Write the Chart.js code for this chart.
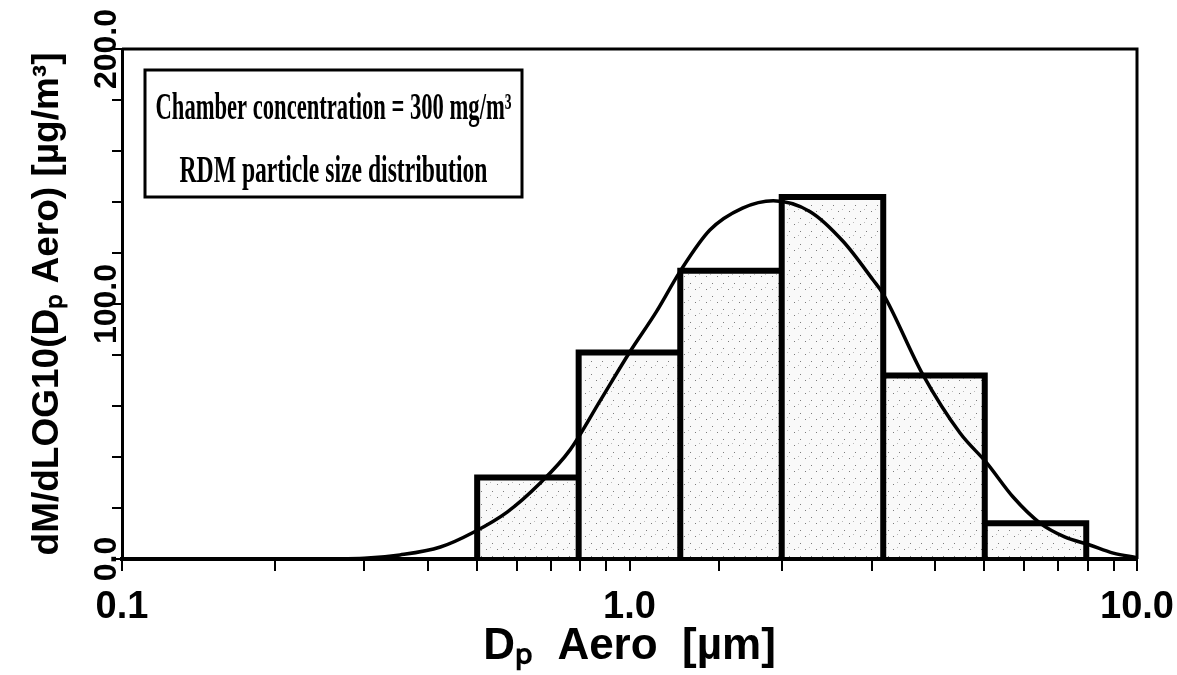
<!DOCTYPE html>
<html>
<head>
<meta charset="utf-8">
<title>RDM particle size distribution</title>
<script src="https://cdn.jsdelivr.net/npm/chart.js@4.4.0/dist/chart.umd.min.js"></script>
<style>
  html, body { margin: 0; padding: 0; background: #fff; }
  #wrap { width: 1177px; height: 675px; }
</style>
</head>
<body>
<div id="wrap"><canvas id="myChart"></canvas></div>
<script>
// histogram bins (aerodynamic diameter, µm) and bar heights (µg/m³)
const binEdges = [0.501, 0.794, 1.259, 1.995, 3.162, 5.012, 7.943];
const binHeights = [32, 81, 113, 142, 72, 14];

// fitted curve
const curveX = [0.1, 0.2, 0.26, 0.30, 0.353, 0.424, 0.494, 0.574, 0.667, 0.763, 0.875, 1.0, 1.13, 1.26, 1.44, 1.67, 1.92, 2.27, 2.64, 3.02, 3.16, 3.78, 4.48, 5.06, 5.7, 6.44, 7.2, 8.07, 8.98, 10.0];
const curveY = [0, 0, 0.1, 0.3, 1.6, 4.7, 10.6, 18.4, 29.8, 42.7, 62, 81, 97, 113, 129, 137.6, 140.5, 136.2, 124.4, 109.4, 104, 72.5, 49.4, 37.6, 24.3, 14.1, 8.7, 5.5, 2.3, 0.5];

// tick labels
const xMajorTicks = [0.1, 1, 10];
const xTickLabels = ['0.1', '1.0', '10.0'];
const yMajorTicks = [0, 100, 200];
const yTickLabels = ['0.0', '100.0', '200.0'];

const xTitle = 'Dₚ  Aero  [µm]';
const yTitle = 'dM/dLOG10(Dₚ Aero) [µg/m³]';
const boxLines = ['Chamber concentration = 300 mg/m³', 'RDM particle size distribution'];

const sansFamily = '"Liberation Sans", Arial, sans-serif';

// outline of the bars, each bar closed down to zero
const histPoints = [];
for (let i = 0; i < binHeights.length; i++) {
  histPoints.push({x: binEdges[i], y: 0});
  histPoints.push({x: binEdges[i], y: binHeights[i]});
  histPoints.push({x: binEdges[i + 1], y: binHeights[i]});
  histPoints.push({x: binEdges[i + 1], y: 0});
}

// light stippled fill like the printed original
function stipple() {
  const c = document.createElement('canvas');
  c.width = 11; c.height = 13;
  const g = c.getContext('2d');
  g.fillStyle = 'rgba(0,0,0,0.025)';
  g.fillRect(0, 0, 11, 13);
  g.fillStyle = 'rgba(0,0,0,0.5)';
  g.fillRect(2, 3, 1, 1);
  g.fillRect(8, 10, 1, 1);
  g.fillStyle = 'rgba(0,0,0,0.25)';
  g.fillRect(6, 1, 1, 1);
  return g.createPattern(c, 'repeat');
}

function pickLabel(value, majors, labels) {
  for (let i = 0; i < majors.length; i++) {
    if (Math.abs(value - majors[i]) < 1e-9 * Math.max(1, majors[i])) return labels[i];
  }
  return '';
}

// frame on top/right + the text box
const framePlugin = {
  id: 'frame',
  afterDraw(chart) {
    const ctx = chart.ctx;
    const a = chart.chartArea;
    ctx.save();
    ctx.strokeStyle = '#000';
    ctx.lineWidth = 3;
    ctx.beginPath();
    ctx.moveTo(a.left, a.top);
    ctx.lineTo(a.right, a.top);
    ctx.lineTo(a.right, a.bottom);
    ctx.stroke();

    const bx = a.left + 23, by = a.top + 21, bw = 377, bh = 127;
    ctx.fillStyle = '#fff';
    ctx.fillRect(bx, by, bw, bh);
    ctx.strokeRect(bx, by, bw, bh);
    ctx.fillStyle = '#000';
    ctx.font = 'bold 38px "Liberation Serif", "DejaVu Serif", serif';
    ctx.textAlign = 'center';
    ctx.textBaseline = 'alphabetic';
    ctx.fillText(boxLines[0], bx + bw / 2, by + 49, 356);
    ctx.fillText(boxLines[1], bx + bw / 2, by + 112, 308);
    ctx.restore();
  }
};

const ctx = document.getElementById('myChart');
new Chart(ctx, {
  type: 'line',
  data: {
    datasets: [
      {
        data: curveX.map((x, i) => ({x: x, y: curveY[i]})),
        borderColor: '#000',
        borderWidth: 3.5,
        pointRadius: 0,
        cubicInterpolationMode: 'monotone',
        fill: false
      },
      {
        data: histPoints,
        borderColor: '#000',
        borderWidth: 6,
        borderJoinStyle: 'miter',
        backgroundColor: stipple(),
        fill: 'origin',
        pointRadius: 0,
        tension: 0
      }
    ]
  },
  options: {
    responsive: true,
    maintainAspectRatio: false,
    animation: false,
    layout: { padding: { top: 49, right: 40, left: 0, bottom: 0 } },
    plugins: {
      legend: { display: false },
      tooltip: { enabled: false }
    },
    scales: {
      x: {
        type: 'logarithmic',
        min: 0.1,
        max: 10,
        border: { display: true, color: '#000', width: 4 },
        grid: { drawOnChartArea: false, color: '#000', lineWidth: 2, tickLength: 12 },
        ticks: {
          autoSkip: false,
          maxRotation: 0,
          color: '#000',
          padding: 14,
          font: { family: sansFamily, size: 38, weight: 'bold' },
          callback: (v) => pickLabel(v, xMajorTicks, xTickLabels)
        },
        title: {
          display: true,
          text: xTitle,
          color: '#000',
          font: { family: sansFamily, size: 44, weight: 'bold' },
          padding: { top: 0, bottom: 2 }
        },
        afterFit: (s) => { s.height = 116; s.paddingRight = 0; }
      },
      y: {
        min: 0,
        max: 200,
        border: { display: true, color: '#000', width: 3 },
        grid: { drawOnChartArea: false, color: '#000', lineWidth: 2, tickLength: 10 },
        ticks: {
          stepSize: 20,
          autoSkip: false,
          minRotation: 90,
          maxRotation: 90,
          crossAlign: 'center',
          padding: -35,
          color: '#000',
          font: { family: sansFamily, size: 32, weight: 'bold' },
          callback: (v) => pickLabel(v, yMajorTicks, yTickLabels)
        },
        title: {
          display: true,
          text: yTitle,
          color: '#000',
          font: { family: sansFamily, size: 37, weight: 'bold' },
          padding: { top: 26, bottom: 0 }
        },
        afterFit: (s) => { s.width = 122; }
      }
    }
  },
  plugins: [framePlugin]
});
</script>
</body>
</html>
